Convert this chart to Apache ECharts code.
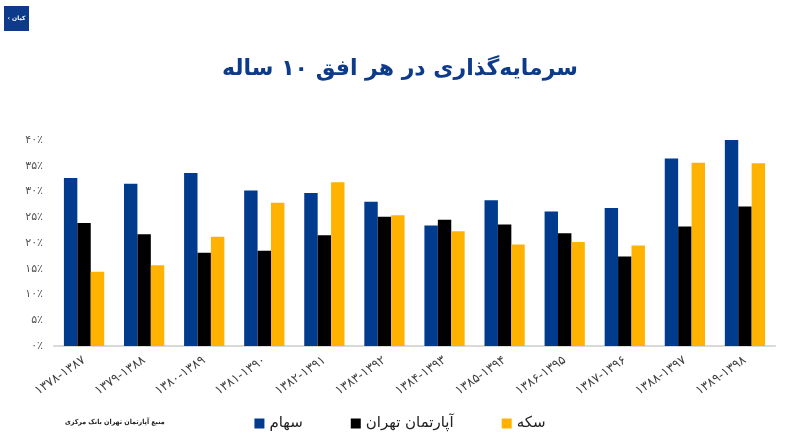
<!DOCTYPE html>
<html><head><meta charset="utf-8">
<script src="https://cdn.jsdelivr.net/npm/echarts@6/dist/echarts.min.js"></script>
<style>html,body{margin:0;padding:0;background:#fff}#c{width:800px;height:437px}</style>
</head><body><div id="c"></div>
<script>
const categories = ['۱۳۷۸-۱۳۸۷','۱۳۷۹-۱۳۸۸','۱۳۸۰-۱۳۸۹','۱۳۸۱-۱۳۹۰','۱۳۸۲-۱۳۹۱','۱۳۸۳-۱۳۹۲','۱۳۸۴-۱۳۹۳','۱۳۸۵-۱۳۹۴','۱۳۸۶-۱۳۹۵','۱۳۸۷-۱۳۹۶','۱۳۸۸-۱۳۹۷','۱۳۸۹-۱۳۹۸'];
const stocks = [32.6, 31.5, 33.6, 30.2, 29.7, 28.0, 23.4, 28.3, 26.1, 26.8, 36.4, 40.0];
const apartment = [23.9, 21.7, 18.1, 18.5, 21.5, 25.1, 24.5, 23.6, 21.9, 17.4, 23.2, 27.1];
const coin = [14.4, 15.7, 21.2, 27.8, 31.8, 25.4, 22.3, 19.7, 20.2, 19.5, 35.6, 35.5];
const seriesNames = ['سهام', 'آپارتمان تهران', 'سکه'];
const yTicks = ['۰٪','۵٪','۱۰٪','۱۵٪','۲۰٪','۲۵٪','۳۰٪','۳۵٪','۴۰٪'];
const titleText = 'سرمایه‌گذاری در هر افق ۱۰ ساله';
const sourceText = 'منبع آپارتمان تهران بانک مرکزی';
const logoText = '\u200E‹\u200E کیان';

const F = 'DejaVu Sans';
const chart = echarts.init(document.getElementById('c'), null, {renderer:'canvas'});
chart.setOption({
  animation: false,
  backgroundColor: '#fff',
  textStyle: {fontFamily: F},
  title: {text: titleText, left: 'center', top: 53, textStyle: {fontFamily: F, fontSize: 22, fontWeight: 'bold', color: '#0d3a8a'}},
  grid: {left: 54, right: 25, top: 140, bottom: 91},
  legend: {
    data: seriesNames, bottom: 1, left: 'center', icon: 'rect', itemWidth: 10, itemHeight: 10, itemGap: 48, itemStyle: {borderWidth: 0},
    textStyle: {fontFamily: F, fontSize: 15, color: '#222'}
  },
  xAxis: {
    type: 'category', data: categories,
    axisLine: {lineStyle: {color: '#d9d9d9', width: 2}},
    axisTick: {show: false},
    axisLabel: {rotate: 35, margin: 13, color: '#404040', fontSize: 12.5, fontFamily: F, interval: 0}
  },
  yAxis: {
    type: 'value', min: 0, max: 40, interval: 5,
    splitLine: {show: false}, axisLine: {show: false}, axisTick: {show: false},
    axisLabel: {margin: 11, color: '#555', fontSize: 11, fontFamily: F, formatter: v => yTicks[Math.round(v / 5)]}
  },
  series: [
    {name: seriesNames[0], type: 'bar', data: stocks, itemStyle: {color: '#003b8e'}, barGap: '0%', barCategoryGap: '33%'},
    {name: seriesNames[1], type: 'bar', data: apartment, itemStyle: {color: '#000000'}, barGap: '0%', barCategoryGap: '33%'},
    {name: seriesNames[2], type: 'bar', data: coin, itemStyle: {color: '#ffb300'}, barGap: '0%', barCategoryGap: '33%'}
  ],
  graphic: [
    {type: 'rect', left: 4, top: 6, shape: {width: 25, height: 25}, style: {fill: '#0d3a8a'}},
    {type: 'text', x: 16.5, y: 18.5, style: {text: logoText, fill: '#fff', fontSize: 6, fontFamily: F, fontWeight: 'bold', align: 'center', verticalAlign: 'middle'}},
    {type: 'text', left: 65, top: 419, style: {text: sourceText, fill: '#222', fontSize: 7, fontFamily: 'DejaVu Sans Condensed', fontWeight: 'bold'}}
  ]
});
</script></body></html>
